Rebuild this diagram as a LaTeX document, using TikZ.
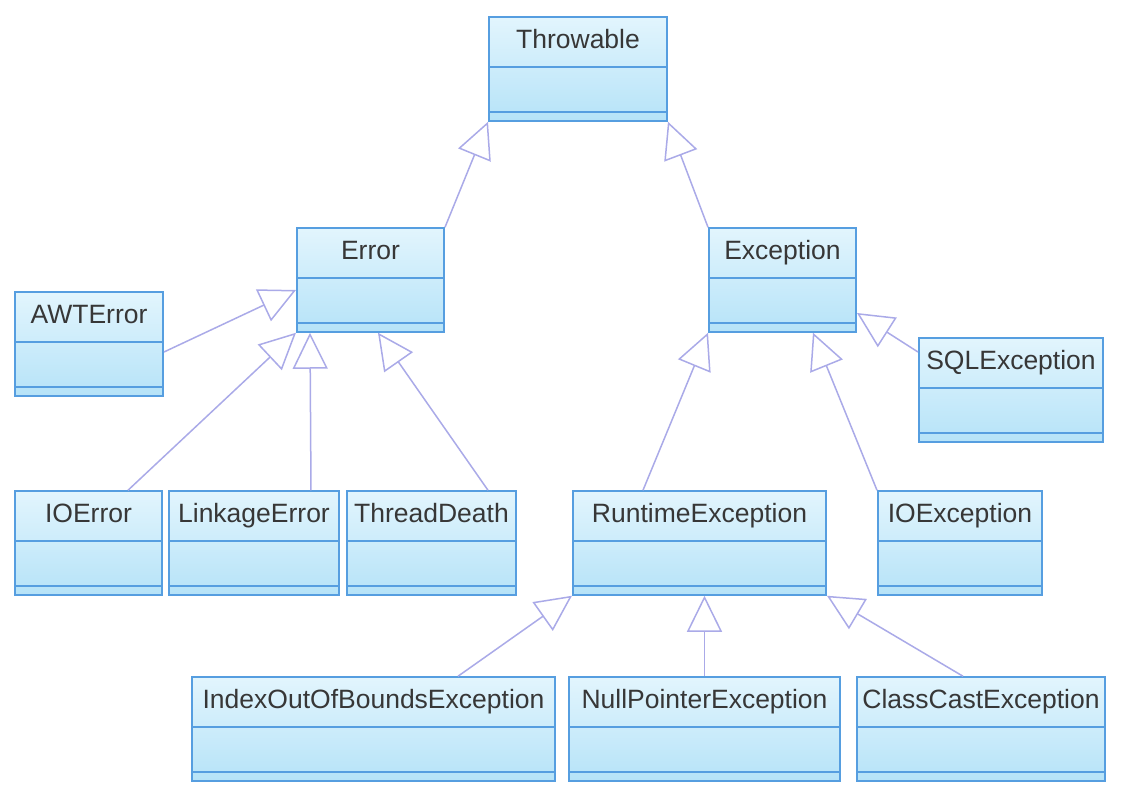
\documentclass[tikz,border=0pt]{standalone}
\usepackage{fontspec}
\setmainfont{Liberation Sans}
\usepackage{tikz}
\usetikzlibrary{arrows.meta, shapes.multipart, positioning}
\definecolor{boxline}{RGB}{86,158,224}
\definecolor{boxtop}{RGB}{226,245,253}
\definecolor{boxbottom}{RGB}{182,227,248}
\definecolor{linkcol}{RGB}{170,170,232}
\definecolor{classtext}{RGB}{55,55,55}
\tikzset{
    classnode/.style = {draw=boxline, line width=2pt, rectangle split, rectangle split parts=3,
      top color=boxtop, bottom color=boxbottom, inner xsep=0pt, inner ysep=0pt,
      node distance=0em, text=classtext, font=\fontsize{26.5}{30}\selectfont},
    inherits/.style = {draw=linkcol, line width=1.5pt,
      -{Triangle[open, length=36pt, width=35pt, line width=1.5pt]}}
}
\newcommand{\classparts}[1]{\rule[-17pt]{0pt}{47.5pt}#1\nodepart{two}\rule{0pt}{43pt}\nodepart{three}\rule{0pt}{7pt}}

\begin{document}
\begin{tikzpicture}
    \path[use as bounding box, fill=white] (-57.8em, 6.9em) rectangle (55.2em, -73.1em);

    \node[classnode, name=Throwable, minimum width=17.8em] {\classparts{Throwable}};
    \node[classnode, name=Error, below of=Throwable, xshift=-20.75em, yshift=-21.1em, minimum width=14.7em] {\classparts{Error}};
    \node[classnode, name=Exception, below of=Throwable, xshift=20.45em, yshift=-21.1em, minimum width=14.7em] {\classparts{Exception}};

    \node[classnode, name=AWTError, below of=Error, xshift=-28.15em, yshift=-6.4em, minimum width=14.8em] {\classparts{AWTError}};
    \node[classnode, name=IOError, below of=Error, xshift=-28.2em, yshift=-26.3em, minimum width=14.7em] {\classparts{IOError}};
    \node[classnode, name=LinkageError, below of=Error, xshift=-11.65em, yshift=-26.3em, minimum width=17em] {\classparts{LinkageError}};
    \node[classnode, name=ThreadDeath, below of=Error, xshift=6.1em, yshift=-26.3em, minimum width=16.9em] {\classparts{ThreadDeath}};

    \node[classnode, name=SQLExc, below of=Exception, xshift=22.85em, yshift=-11em, minimum width=18.4em] {\classparts{SQLException}};
    \node[classnode, name=Runtime, below of=Exception, xshift=-8.3em, yshift=-26.3em, minimum width=25.3em] {\classparts{RuntimeException}};
    \node[classnode, name=IOExc, below of=Exception, xshift=17.75em, yshift=-26.3em, minimum width=16.4em] {\classparts{IOException}};

    \node[classnode, name=IndexOOB, below of=Runtime, xshift=-32.6em, yshift=-18.6em, minimum width=36.3em] {\classparts{IndexOutOfBoundsException}};
    \node[classnode, name=NullPtr, below of=Runtime, xshift=0.5em, yshift=-18.6em, minimum width=27.1em] {\classparts{NullPointerException}};
    \node[classnode, name=ClassCast, below of=Runtime, xshift=28.15em, yshift=-18.6em, minimum width=24.8em] {\classparts{ClassCastException}};

    % inheritance
    \draw[inherits] (Error.north east) -- (Throwable.south west);
    \draw[inherits] (Exception.north west) -- (Throwable.south east);

    \draw[inherits] ([yshift=-0.8em]AWTError.east) -- ([yshift=-1em]Error.west);
    \draw[inherits] ([xshift=3.95em]IOError.north) -- (Error.south west);
    \draw[inherits] ([xshift=5.7em]LinkageError.north) -- ([xshift=1.4em]Error.south west);
    \draw[inherits] ([xshift=5.65em]ThreadDeath.north) -- ([xshift=0.75em]Error.south);

    \draw[inherits] ([yshift=3.8em]SQLExc.west) -- ([yshift=-3.3em]Exception.east);
    \draw[inherits] ([xshift=-5.65em]Runtime.north) -- (Exception.south west);
    \draw[inherits] (IOExc.north west) -- ([xshift=3.05em]Exception.south);

    \draw[inherits] ([xshift=8.45em]IndexOOB.north) -- (Runtime.south west);
    \draw[inherits] (NullPtr.north) -- (NullPtr.north |- Runtime.south);
    \draw[inherits] ([xshift=-1.8em]ClassCast.north) -- (Runtime.south east);
\end{tikzpicture}
\end{document}
